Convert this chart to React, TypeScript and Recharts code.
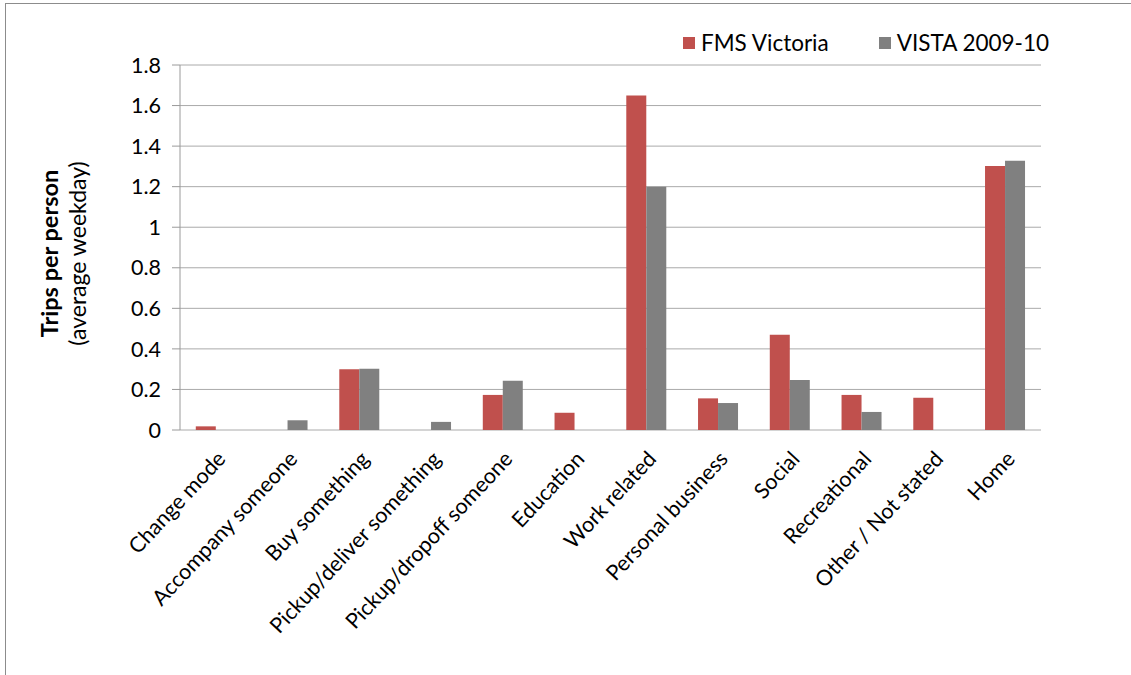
import { BarChart, Bar, XAxis, YAxis, CartesianGrid, Legend } from 'recharts'

const categories = [
  'Change mode',
  'Accompany someone',
  'Buy something',
  'Pickup/deliver something',
  'Pickup/dropoff someone',
  'Education',
  'Work related',
  'Personal business',
  'Social',
  'Recreational',
  'Other / Not stated',
  'Home',
]

const fmsVictoria = [0.018, 0, 0.3, 0, 0.173, 0.085, 1.65, 0.156, 0.47, 0.173, 0.159, 1.302]
const vista = [0, 0.048, 0.302, 0.04, 0.243, 0, 1.2, 0.133, 0.246, 0.089, 0, 1.328]

const yTicks = [0, 0.2, 0.4, 0.6, 0.8, 1, 1.2, 1.4, 1.6, 1.8]
const boundaryTicks = [0, 1, 2, 3, 4, 5, 6, 7, 8, 9, 10, 11, 12]

const FONT = 'Lato, "Open Sans", sans-serif'
const RED = '#C0504D'
const GREY = '#808080'
const AXIS = '#9a9a9a'

const chartData = categories.map((name, i) => ({
  name,
  fms: fmsVictoria[i],
  vista: vista[i],
}))

// rotated category label, anchored at its end just right of the band centre
function CategoryTick(props: any) {
  const { x, y, payload } = props
  const ax = x + 11
  const ay = y + 22
  return (
    <text
      x={ax}
      y={ay}
      transform={`rotate(-47, ${ax}, ${ay})`}
      textAnchor="end"
      fontFamily={FONT}
      fontSize={21.5}
      fill="#000"
    >
      {payload.value}
    </text>
  )
}

function YLabel(props: any) {
  const vb = props.viewBox || { y: 65, height: 365 }
  const cy = vb.y + vb.height / 2 + 6
  return (
    <g fontFamily={FONT} fill="#000">
      <text x={58} y={cy} transform={`rotate(-90, 58, ${cy})`} textAnchor="middle" fontSize={23.5} fontWeight="bold">
        Trips per person
      </text>
      <text x={86} y={cy} transform={`rotate(-90, 86, ${cy})`} textAnchor="middle" fontSize={23}>
        (average weekday)
      </text>
    </g>
  )
}

function LegendContent() {
  const items = [
    { label: 'FMS Victoria', color: RED },
    { label: 'VISTA 2009-10', color: GREY },
  ]
  return (
    <div style={{ display: 'flex', alignItems: 'center', fontFamily: FONT, fontSize: 22.5, color: '#000' }}>
      {items.map((it, i) => (
        <div key={it.label} style={{ display: 'flex', alignItems: 'center', marginLeft: i === 0 ? 0 : 50 }}>
          <span style={{ width: 12, height: 12, background: it.color, display: 'inline-block', marginRight: 6 }} />
          <span>{it.label}</span>
        </div>
      ))}
    </div>
  )
}

export default function App() {
  return (
    <div style={{ position: 'absolute', left: 0, top: 0, width: 1131, height: 675, background: '#fff' }}>
      <div
        style={{
          position: 'absolute',
          left: 5,
          top: 3,
          width: 1126,
          height: 672,
          borderTop: '1px solid #8c8c8c',
          borderLeft: '1px solid #8c8c8c',
          boxSizing: 'border-box',
        }}
      />
      <BarChart
        width={1131}
        height={675}
        data={chartData}
        margin={{ top: 65, right: 90, bottom: 45, left: 80 }}
        barCategoryGap="22%"
        barGap={0}
      >
        <CartesianGrid vertical={false} stroke="#aaaaaa" />
        <XAxis
          xAxisId="bounds"
          type="number"
          domain={[0, 12]}
          ticks={boundaryTicks}
          height={0}
          tick={false}
          tickSize={8}
          tickLine={{ stroke: AXIS }}
          axisLine={{ stroke: AXIS }}
          allowDataOverflow
        />
        <XAxis
          xAxisId="cat"
          dataKey="name"
          height={200}
          interval={0}
          tickLine={false}
          axisLine={false}
          tick={<CategoryTick />}
        />
        <YAxis
          domain={[0, 1.8]}
          ticks={yTicks}
          width={100}
          tickSize={8}
          tickMargin={11}
          tickLine={{ stroke: AXIS }}
          axisLine={{ stroke: AXIS }}
          tick={{ fontFamily: FONT, fontSize: 21.5, fill: '#000' }}
          label={<YLabel />}
        />
        <Legend
          layout="horizontal"
          verticalAlign="middle"
          align="center"
          wrapperStyle={{ top: 29, left: 683, width: 'auto' }}
          content={<LegendContent />}
        />
        <Bar xAxisId="cat" dataKey="fms" name="FMS Victoria" fill={RED} isAnimationActive={false} />
        <Bar xAxisId="cat" dataKey="vista" name="VISTA 2009-10" fill={GREY} isAnimationActive={false} />
      </BarChart>
    </div>
  )
}
